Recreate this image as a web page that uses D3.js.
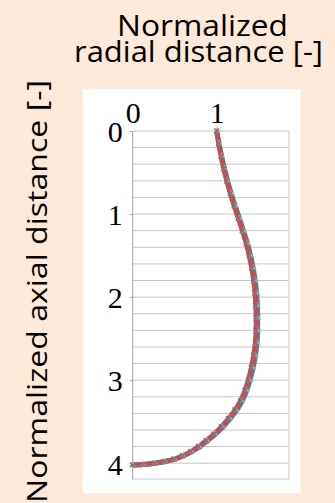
<!DOCTYPE html>
<html>
<head>
<meta charset="utf-8">
<script src="https://cdn.jsdelivr.net/npm/d3@7"></script>
<style>
  html, body { margin: 0; padding: 0; background: #fde9d9; }
  svg { display: block; }
</style>
</head>
<body>
<svg id="chart" width="335" height="503"></svg>
<script>
// Axial positions of the profile samples (from the top of the neck down)
const axial = [0.00, 0.15, 0.30, 0.45, 0.60, 0.75, 0.90, 1.05, 1.20, 1.35,
               1.50, 1.65, 1.80, 1.95, 2.10, 2.25, 2.40, 2.55, 2.70, 2.85,
               3.00, 3.12, 3.25, 3.36, 3.46, 3.56, 3.65, 3.73, 3.80, 3.86,
               3.91, 3.95, 3.98, 4.00, 4.015, 4.02];

// Normalized radial distance for each series at those axial positions
const radialBlue = [1.000, 1.027, 1.058, 1.092, 1.130, 1.172, 1.219, 1.270, 1.319, 1.365,
                    1.403, 1.434, 1.458, 1.475, 1.484, 1.488, 1.487, 1.480, 1.461, 1.433,
                    1.397, 1.359, 1.305, 1.239, 1.163, 1.077, 0.985, 0.890, 0.798, 0.703,
                    0.606, 0.503, 0.389, 0.265, 0.131, 0.000];
const radialRed = [1.000, 1.023, 1.051, 1.083, 1.120, 1.161, 1.207, 1.257, 1.305, 1.350,
                   1.387, 1.417, 1.440, 1.456, 1.465, 1.469, 1.468, 1.460, 1.440, 1.412,
                   1.376, 1.338, 1.284, 1.218, 1.143, 1.058, 0.968, 0.875, 0.785, 0.692,
                   0.596, 0.495, 0.383, 0.262, 0.130, 0.000];
const radialGreen = [1.003, 1.029, 1.059, 1.093, 1.131, 1.173, 1.220, 1.271, 1.320, 1.366,
                     1.404, 1.435, 1.459, 1.476, 1.485, 1.489, 1.488, 1.480, 1.460, 1.431,
                     1.394, 1.355, 1.300, 1.233, 1.157, 1.071, 0.980, 0.886, 0.794, 0.699,
                     0.601, 0.499, 0.386, 0.264, 0.130, 0.000];
const radialPurple = [1.000, 1.022, 1.050, 1.082, 1.119, 1.160, 1.206, 1.256, 1.304, 1.349,
                      1.386, 1.416, 1.439, 1.455, 1.464, 1.468, 1.467, 1.459, 1.439, 1.411,
                      1.375, 1.337, 1.283, 1.217, 1.142, 1.057, 0.967, 0.874, 0.784, 0.691,
                      0.595, 0.494, 0.382, 0.261, 0.129, 0.000];

// Tick labels
const radialTicks = [0, 1];
const axialTicks = [0, 1, 2, 3, 4];
const axialGrid = d3.range(0, 21).map(i => i * 0.2);

const svg = d3.select("#chart");

// White chart area
svg.append("rect")
  .attr("x", 82.7).attr("y", 89)
  .attr("width", 218).attr("height", 404.3)
  .attr("fill", "#ffffff");

const x = d3.scaleLinear().domain([0, 1.86]).range([132.7, 289]);
const y = d3.scaleLinear().domain([0, 4.19]).range([131, 479]);

// Horizontal gridlines every 0.2
svg.append("g")
  .selectAll("line")
  .data(axialGrid)
  .join("line")
  .attr("x1", x(0)).attr("x2", x(1.86))
  .attr("y1", d => y(d)).attr("y2", d => y(d))
  .attr("stroke", "#c6c6c6")
  .attr("stroke-width", 1);

// Plot area border: right and bottom edges
svg.append("line")
  .attr("x1", x(1.86)).attr("x2", x(1.86))
  .attr("y1", y(0)).attr("y2", y(4.19))
  .attr("stroke", "#e2e2e2").attr("stroke-width", 2);
svg.append("line")
  .attr("x1", x(0)).attr("x2", x(1.86))
  .attr("y1", y(4.19)).attr("y2", y(4.19))
  .attr("stroke", "#c6c6c6").attr("stroke-width", 1);

// Vertical axis with outward ticks
const yAxis = d3.axisLeft(y)
  .tickValues(axialTicks)
  .tickSize(3)
  .tickPadding(8)
  .tickFormat(d3.format("d"));
const gy = svg.append("g")
  .attr("transform", `translate(${x(0)},0)`)
  .call(yAxis);
gy.select(".domain")
  .attr("d", `M0,${y(0)}V${y(4.19)}`)
  .attr("stroke", "#a6a6a6");
gy.selectAll(".tick line").attr("stroke", "#a6a6a6");
gy.selectAll(".tick text")
  .attr("font-family", "'Liberation Serif', 'Times New Roman', serif")
  .attr("font-size", 30)
  .attr("fill", "#000")
  .attr("dy", "0.36em")
  .attr("x", -10);

// Radial tick labels along the top
const xAxis = d3.axisTop(x)
  .tickValues(radialTicks)
  .tickSize(0)
  .tickPadding(8)
  .tickFormat(d3.format("d"));
const gx = svg.append("g")
  .attr("transform", `translate(0,${y(0)})`)
  .call(xAxis);
gx.select(".domain").remove();
gx.selectAll(".tick text")
  .attr("font-family", "'Liberation Serif', 'Times New Roman', serif")
  .attr("font-size", 30)
  .attr("fill", "#000");

// Profile series
const pts = r => axial.map((a, i) => [r[i], a]);
const line = d3.line().x(d => x(d[0])).y(d => y(d[1])).curve(d3.curveCatmullRom);

svg.append("path")
  .datum(pts(radialBlue))
  .attr("d", line)
  .attr("fill", "none")
  .attr("stroke", "#4f81bd")
  .attr("stroke-width", 5)
  .attr("stroke-linejoin", "round");

svg.append("path")
  .datum(pts(radialRed))
  .attr("d", line)
  .attr("fill", "none")
  .attr("stroke", "#c0504d")
  .attr("stroke-width", 5)
  .attr("stroke-linejoin", "round");

const tri = d3.symbol().type(d3.symbolTriangle).size(20);
svg.append("g")
  .selectAll("path")
  .data(pts(radialGreen))
  .join("path")
  .attr("transform", d => `translate(${x(d[0])},${y(d[1])})`)
  .attr("d", tri)
  .attr("fill", "#9bbb59");

const cross = d3.symbol().type(d3.symbolTimes).size(18);
svg.append("g")
  .selectAll("path")
  .data(pts(radialPurple))
  .join("path")
  .attr("transform", d => `translate(${x(d[0])},${y(d[1])})`)
  .attr("d", cross)
  .attr("fill", "none")
  .attr("stroke", "#8064a2")
  .attr("stroke-width", 1.4);

// Axis titles
const titleFont = "'Open Sans', 'Noto Sans', sans-serif";
svg.append("text")
  .attr("x", 117).attr("y", 36)
  .attr("font-family", titleFont)
  .attr("font-size", 29)
  .attr("textLength", 171)
  .attr("lengthAdjust", "spacingAndGlyphs")
  .attr("fill", "#000")
  .text("Normalized");
svg.append("text")
  .attr("x", 74).attr("y", 62)
  .attr("font-family", titleFont)
  .attr("font-size", 29)
  .attr("textLength", 249)
  .attr("lengthAdjust", "spacingAndGlyphs")
  .attr("fill", "#000")
  .text("radial distance [-]");

svg.append("text")
  .attr("transform", "translate(47,503) rotate(-90)")
  .attr("font-family", titleFont)
  .attr("font-size", 27)
  .attr("textLength", 423)
  .attr("lengthAdjust", "spacingAndGlyphs")
  .attr("fill", "#000")
  .text("Normalized axial distance [-]");
</script>
</body>
</html>
